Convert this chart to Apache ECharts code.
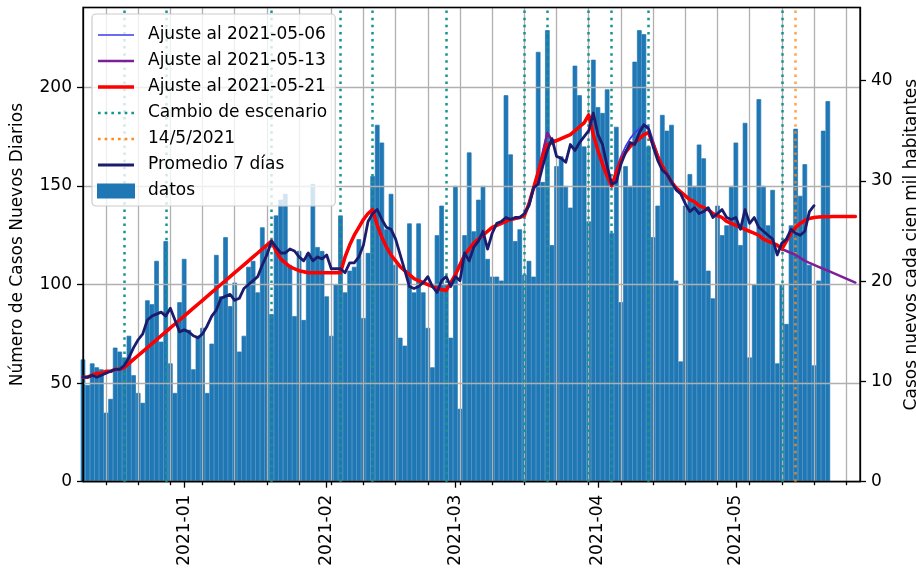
<!DOCTYPE html>
<html><head><meta charset="utf-8">
<script src="https://cdn.jsdelivr.net/npm/echarts@6/dist/echarts.min.js"></script>
<style>html,body{margin:0;padding:0;background:#fff}#c{width:916px;height:569px}</style>
</head><body><div id="c"></div>
<script>
// ---- categories (daily) ----
const fechaInicio = '2020-12-10';
const fechaFin = '2021-05-28';
const dias = [];
for (let t = Date.parse(fechaInicio + 'T00:00:00Z'); t <= Date.parse(fechaFin + 'T00:00:00Z'); t += 86400000) {
  dias.push(new Date(t).toISOString().slice(0, 10));
}

// ---- daily cases (datos) ----
const datosDic = [62,49,60,58,57,35,42,68,66,63,74,54,45,40,92,90,112,71,122,60,45,91];
const datosEne = [113,77,57,74,78,45,70,115,94,124,89,101,66,74,109,112,96,129,120,85,135,143,146,110,84,117,82,116,151,119,117];
const datosFeb = [94,74,100,135,96,107,109,123,83,116,155,181,172,128,146,110,73,69,131,96,131,96,78,58,125,140,100,73];
const datosMar = [150,37,125,167,127,143,150,113,104,104,102,196,166,122,128,105,112,104,218,152,229,120,160,165,150,139,211,196,170,132,214];
const datosAbr = [190,187,199,126,180,91,160,150,213,229,227,170,124,140,186,178,181,102,61,140,156,150,171,164,107,93,140,125,130,150];
const datosMay = [172,120,182,63,100,194,150,130,148,60,100,80,130,179,145,161,110,59,102,178,193];

// ---- 7-day average ----
const promDic = [53,53,54,53,54,55,56,57,57,59,63,68,72,75,82,84,85,86,84,88,82,76];
const promEne = [77,76,74,73,75,79,84,87,93,94,95,92,93,98,100,102,104,110,115,122,119,116,116,118,117,114,112,116,112,114,113];
const promFeb = [115,108,108,108,106,111,111,114,120,132,136,138,133,129,128,123,115,107,99,98,99,101,104,99,96,102,104,99];
const promMar = [104,102,116,112,119,122,127,118,126,131,132,134,133,134,134,136,140,149,151,160,168,174,165,164,162,171,168,172,175,178,187];
const promAbr = [176,171,160,151,152,161,167,172,171,177,181,179,170,163,158,156,152,148,146,141,137,139,136,137,139,134,136,138,134,133];
const promMay = [134,128,138,131,134,129,127,125,123,115,121,123,128,126,125,127,137,140];

// ---- fit 2021-05-21 ----
const aj21Dic = [53,53,54,55,55,56,56,57,57,58,60,62,64,66,68,70,72,74,76,78,80,82];
const aj21Ene = [84,86,88,90,92,94,96,98,100,102,104,106,108,110,112,114,116,118,120,122,117,113,111,109,108,107,106.5,106,106,106,106];
const aj21Feb = [106,106,106,106,114,120,125,129,133,136,138,130,124,119,115,112,109,107,105,103,102,101,100,99,98,97.5,97,101];
const aj21Mar = [105,110,115,118,121,123,125,127,129,130,131,132,133,133.5,134,135,141,149,157,165,171,172,173,174,175,176,178,180,182,186,176];
const aj21Abr = [168,161,155,150,157,163,167,170,172,174,176,177,171,165,160,156,152,149,147,145,143,142,140,139,138,136,135,134,132,131];
const aj21May = [130,129,128,127,126,125,123,122,121,120,118,122,126,129,131,132.5,133.5,134,134.2,134.4,134.4,134.5,134.5,134.5,134.5,134.5,134.5];

// ---- fit 2021-05-13 ----
const aj13Dic = [53,53,54,55,55,56,56,57,57,58,60,62,64,66,68,70,72,74,76,78,80,82];
const aj13Ene = [84,86,88,90,92,94,96,98,100,102,104,106,108,110,112,114,116,118,120,122,117,113,111,109,108,107,106.5,106,106,106,106];
const aj13Feb = [106,106,106,106,114,120,125,129,133,136,138,130,124,119,115,112,109,107,105,103,102,101,100,99,98,97.5,97,101];
const aj13Mar = [105,110,115,118,121,123,125,127,129,130,131,132,133,133.5,134,135,141,149,157,167,177,173,173,174,175,176,178,180,182,186,176];
const aj13Abr = [168,161,155,150,157,163,167,170,172,174,176,177,171,165,160,156,152,149,147,145,143,142,140,139,138,136,135,134,132,131];
const aj13May = [130,129,128,127,126,125,123,122,121,120,118,117,116,115,113.5,112,111,110,109,108,107,106,105,104,103,102,101];

// ---- fit 2021-05-06 ----
const aj06Dic = [53,53,54,55,55,56,56,57,57,58,60,62,64,66,68,70,72,74,76,78,80,82];
const aj06Ene = [84,86,88,90,92,94,96,98,100,102,104,106,108,110,112,114,116,118,120,122,117,113,111,109,108,107,106.5,106,106,106,106];
const aj06Feb = [106,106,106,106,114,120,125,129,133,136,138,130,124,119,115,112,109,107,105,103,102,101,100,99,98,97.5,97,101];
const aj06Mar = [105,110,115,118,121,123,125,127,129,130,131,132,133,133.5,134,135,141,149,157,167,177,173,173,174,175,176,178,180,182,186,176];
const aj06Abr = [168,161,155,150,158,165,170,174,177,179,181,180,173,166,160,156,152,149,147,145,143,142,140,139,138,136,135,134,132,131];
const aj06May = [130,129,128,127,126,125,123,122,121,120,118,117,116];

// ---- scenario changes & reference date ----
const cambioEscenario = ['2020-12-19','2020-12-28','2021-01-20','2021-02-04','2021-02-11','2021-02-27','2021-03-16','2021-03-21','2021-03-30','2021-04-04','2021-04-12','2021-05-11'];
const fechaReferencia = ['2021-05-14'];

// ---- axis settings ----
const yIzqMax = 240.5, yIzqPaso = 50;
const yDerMax = 47.3, yDerPaso = 10;

const datos = [].concat(datosDic, datosEne, datosFeb, datosMar, datosAbr, datosMay);
const promedio = [].concat(promDic, promEne, promFeb, promMar, promAbr, promMay);
const ajuste21 = [].concat(aj21Dic, aj21Ene, aj21Feb, aj21Mar, aj21Abr, aj21May);
const ajuste13 = [].concat(aj13Dic, aj13Ene, aj13Feb, aj13Mar, aj13Abr, aj13May);
const ajuste06 = [].concat(aj06Dic, aj06Ene, aj06Feb, aj06Mar, aj06Abr, aj06May);

const FONT = 'DejaVu Sans';
const esMartes = (i, v) => new Date(v + 'T00:00:00Z').getUTCDay() === 2;
const esInicioMes = (i, v) => v.slice(8) === '01';
const negro = '#000';
const c06 = '#3a3af0', c13 = '#7d1f96', c21 = '#ff0000', cTeal = '#179490', cOr = '#ff8c1a', cProm = '#1c1c6e', cBar = '#1f77b4';
const dots = 'path://M0,0h2.6v2.6h-2.6zM6.6,0h2.6v2.6h-2.6zM13.2,0h2.6v2.6h-2.6zM19.8,0h2.6v2.6h-2.6zM26.4,0h2.6v2.6h-2.6zM33,0h2.6v2.6h-2.6z';
const bar = w => 'path://M0,0H36V' + w + 'H0Z';

const chart = echarts.init(document.getElementById('c'));
chart.setOption({
  animation: false,
  textStyle: { fontFamily: FONT },
  grid: { left: 83, right: 56, top: 7.5, bottom: 87.3, containLabel: false, outerBoundsMode: 'none',
    show: true, borderColor: negro, borderWidth: 1.3, backgroundColor: 'transparent', z: 4 },
  legend: {
    left: 92, top: 14, orient: 'vertical', itemWidth: 36, itemHeight: 13, itemGap: 6,
    padding: [11, 8, 5, 5], backgroundColor: 'rgba(255,255,255,0.8)', borderColor: '#cccccc', borderWidth: 1.2, borderRadius: 4,
    textStyle: { fontSize: 17, fontFamily: FONT, color: negro, padding: [0, 0, 0, 9], lineHeight: 20 },
    selectedMode: false, z: 20,
    data: [
      { name: 'Ajuste al 2021-05-06', icon: bar(1.7), itemStyle: { color: c06 } },
      { name: 'Ajuste al 2021-05-13', icon: bar(2.5), itemStyle: { color: c13 } },
      { name: 'Ajuste al 2021-05-21', icon: bar(3.5), itemStyle: { color: c21 } },
      { name: 'Cambio de escenario', icon: dots, itemStyle: { color: cTeal } },
      { name: '14/5/2021', icon: dots, itemStyle: { color: cOr } },
      { name: 'Promedio 7 días', icon: bar(3), itemStyle: { color: cProm } },
      { name: 'datos', icon: 'rect', itemStyle: { color: cBar } }
    ]
  },
  xAxis: [
    { type: 'category', data: dias, boundaryGap: false, position: 'bottom', z: 3,
      axisLine: { show: true, lineStyle: { color: negro, width: 1.3 } },
      axisTick: { show: true, interval: esMartes, length: 3.5, lineStyle: { color: negro, width: 1.3 } },
      axisLabel: { show: false },
      splitLine: { show: true, interval: esMartes, lineStyle: { color: '#b0b0b0', width: 1.3 } } },
    { type: 'category', data: dias, boundaryGap: false, position: 'bottom', z: 3,
      axisLine: { show: false },
      axisTick: { show: true, interval: esInicioMes, length: 6, lineStyle: { color: negro, width: 1.3 } },
      axisLabel: { show: true, interval: esInicioMes, rotate: 90, margin: 13, fontSize: 17, color: negro, fontFamily: FONT, formatter: v => v.slice(0, 7) },
      splitLine: { show: false } }
  ],
  yAxis: [
    { type: 'value', min: 0, max: yIzqMax, interval: yIzqPaso, position: 'left', z: 3,
      name: 'Número de Casos Nuevos Diarios', nameLocation: 'middle', nameGap: 57, nameRotate: 90,
      nameTextStyle: { fontSize: 17, color: negro, fontFamily: FONT },
      axisLine: { show: true, lineStyle: { color: negro, width: 1.3 } },
      axisTick: { show: true, length: 6, lineStyle: { color: negro, width: 1.3 } },
      axisLabel: { fontSize: 17, color: negro, margin: 11, showMaxLabel: false, fontFamily: FONT },
      splitLine: { show: true, lineStyle: { color: '#b0b0b0', width: 1.3 } } },
    { type: 'value', min: 0, max: yDerMax, interval: yDerPaso, position: 'right', z: 3,
      name: 'Casos nuevos cada cien mil habitantes', nameLocation: 'middle', nameGap: 38, nameRotate: 90,
      nameTextStyle: { fontSize: 17, color: negro, fontFamily: FONT },
      axisLine: { show: true, lineStyle: { color: negro, width: 1.3 } },
      axisTick: { show: true, length: 6, lineStyle: { color: negro, width: 1.3 } },
      axisLabel: { fontSize: 17, color: negro, margin: 11, showMaxLabel: false, fontFamily: FONT },
      splitLine: { show: false } }
  ],
  series: [
    { name: 'datos', type: 'bar', data: datos, xAxisIndex: 0, yAxisIndex: 0, barCategoryGap: '0%', barWidth: '100%', z: 2,
      itemStyle: { color: cBar, borderColor: cBar, borderWidth: 0.7 }, emphasis: { disabled: true } },
    { name: 'Ajuste al 2021-05-06', type: 'line', data: ajuste06, symbol: 'none', z: 5, color: c06,
      lineStyle: { color: c06, width: 1.7, join: 'round', cap: 'round' }, emphasis: { disabled: true } },
    { name: 'Ajuste al 2021-05-13', type: 'line', data: ajuste13, symbol: 'none', z: 6, color: c13,
      lineStyle: { color: c13, width: 2.5, join: 'round', cap: 'round' }, emphasis: { disabled: true } },
    { name: 'Ajuste al 2021-05-21', type: 'line', data: ajuste21, symbol: 'none', z: 7, color: c21,
      lineStyle: { color: c21, width: 3.5, join: 'round', cap: 'round' }, emphasis: { disabled: true } },
    { name: 'Cambio de escenario', type: 'line', data: [], symbol: 'none', z: 8, color: cTeal,
      lineStyle: { color: cTeal, width: 2.5, type: [2.5, 4.6] },
      markLine: { silent: true, symbol: ['none', 'none'], label: { show: false }, animation: false,
        lineStyle: { color: cTeal, width: 2.5, type: [2.5, 4.6] }, emphasis: { disabled: true },
        data: cambioEscenario.map(d => ({ xAxis: dias.indexOf(d) })) } },
    { name: '14/5/2021', type: 'line', data: [], symbol: 'none', z: 9, color: cOr,
      lineStyle: { color: cOr, width: 2.5, type: [2.5, 4.6] },
      markLine: { silent: true, symbol: ['none', 'none'], label: { show: false }, animation: false,
        lineStyle: { color: cOr, width: 2.5, type: [2.5, 4.6], opacity: 0.8 }, emphasis: { disabled: true },
        data: fechaReferencia.map(d => ({ xAxis: dias.indexOf(d) })) } },
    { name: 'Promedio 7 días', type: 'line', data: promedio, symbol: 'none', z: 10, color: cProm,
      lineStyle: { color: cProm, width: 2.8, join: 'round', cap: 'round' }, emphasis: { disabled: true } }
  ]
});
</script>
</body></html>
